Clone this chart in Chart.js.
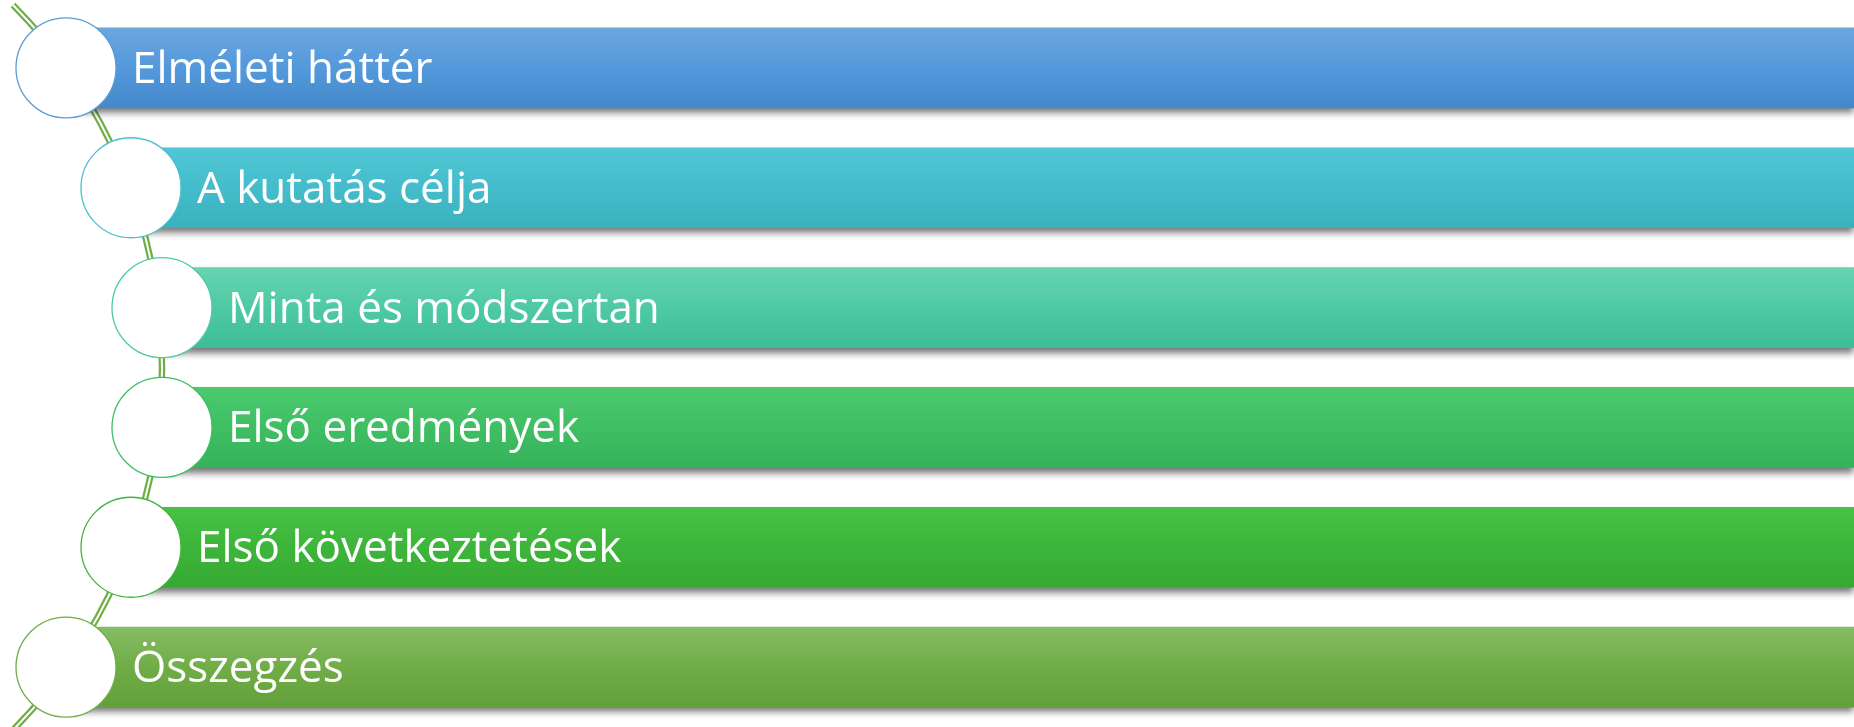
<!DOCTYPE html>
<html>
<head>
<meta charset="utf-8">
<script src="https://cdn.jsdelivr.net/npm/chart.js@4.4.1/dist/chart.umd.min.js"></script>
<style>
  html, body { margin: 0; padding: 0; background: #fff; overflow: hidden; }
  #box { width: 1854px; height: 727px; }
</style>
</head>
<body>
<div id="box"><canvas id="myChart" width="1854" height="727"></canvas></div>
<script>
var steps = ["Elméleti háttér", "A kutatás célja", "Minta és módszertan", "Első eredmények", "Első következtetések", "Összegzés"];
var starts = [66, 131, 162, 162, 131, 66];
var ends = [1854, 1854, 1854, 1854, 1854, 1854];
var topColors = ["#6ca6de", "#50c7d4", "#68d3b1", "#4bc96d", "#48c145", "#86bc64"];
var midColors = ["#5399db", "#44bccb", "#4ecaa3", "#3fbe64", "#3db53a", "#70ad47"];
var bottomColors = ["#4488ca", "#3bb1bd", "#3ebd97", "#35b35a", "#36a932", "#63a039"];

var barData = [];
var dotData = [];
for (var i = 0; i < steps.length; i++) {
    barData.push([starts[i], ends[i]]);
    dotData.push({ x: starts[i], y: steps[i] });
}

function barFill(context) {
    var chart = context.chart;
    var i = context.dataIndex;
    if (!chart.chartArea || context.type !== 'data') return midColors[i];
    var yc = chart.scales.y.getPixelForValue(i);
    var g = chart.ctx.createLinearGradient(0, yc - 40, 0, yc + 40);
    g.addColorStop(0, topColors[i]);
    g.addColorStop(0.5, midColors[i]);
    g.addColorStop(1, bottomColors[i]);
    return g;
}

// green double line running behind the circles
const arcLine = {
    id: 'arcLine',
    beforeDatasetsDraw(chart) {
        var pts = chart.getDatasetMeta(1).data;
        if (!pts.length) return;
        var n = pts.length;
        var a = { x: pts[0].x, y: pts[0].y };
        var b = { x: (pts[2].x + pts[3].x) / 2, y: (pts[2].y + pts[3].y) / 2 };
        var c = { x: pts[n - 1].x, y: pts[n - 1].y };
        var d = 2 * (a.x * (b.y - c.y) + b.x * (c.y - a.y) + c.x * (a.y - b.y));
        var ux = ((a.x * a.x + a.y * a.y) * (b.y - c.y) + (b.x * b.x + b.y * b.y) * (c.y - a.y) + (c.x * c.x + c.y * c.y) * (a.y - b.y)) / d;
        var uy = ((a.x * a.x + a.y * a.y) * (c.x - b.x) + (b.x * b.x + b.y * b.y) * (a.x - c.x) + (c.x * c.x + c.y * c.y) * (b.x - a.x)) / d;
        var r = Math.hypot(a.x - ux, a.y - uy);
        var a0 = Math.asin((5 - uy) / r);
        var a1 = Math.asin(Math.min(1, (760 - uy) / r));
        var ctx = chart.ctx;
        ctx.save();
        ctx.beginPath();
        ctx.arc(ux, uy, r, a0, a1);
        ctx.lineWidth = 6.5;
        ctx.strokeStyle = '#70ad47';
        ctx.stroke();
        ctx.lineWidth = 2;
        ctx.strokeStyle = '#ffffff';
        ctx.stroke();
        ctx.restore();
    }
};

// drop shadow under the bars
const barShadow = {
    id: 'barShadow',
    beforeDatasetDraw(chart, args) {
        if (args.index !== 0) return;
        var ctx = chart.ctx;
        ctx.save();
        ctx.shadowColor = 'rgba(0,0,0,0.55)';
        ctx.shadowBlur = 7;
        ctx.shadowOffsetX = 0;
        ctx.shadowOffsetY = 5;
    },
    afterDatasetDraw(chart, args) {
        if (args.index !== 0) return;
        chart.ctx.restore();
    }
};

// step names written on the bars
const stepText = {
    id: 'stepText',
    afterDatasetsDraw(chart) {
        var ctx = chart.ctx;
        ctx.save();
        ctx.fillStyle = '#ffffff';
        ctx.font = '44px "Open Sans"';
        ctx.textBaseline = 'alphabetic';
        ctx.textAlign = 'left';
        for (var i = 0; i < steps.length; i++) {
            var x = chart.scales.x.getPixelForValue(starts[i]) + 66;
            var y = chart.scales.y.getPixelForValue(i) + 15;
            ctx.fillText(steps[i], x, y);
        }
        ctx.restore();
    }
};

const data = {
    labels: steps,
    datasets: [{
        type: 'bar',
        data: barData,
        backgroundColor: barFill,
        borderWidth: 0,
        barThickness: 80,
        order: 1
    },
    {
        type: 'line',
        data: dotData,
        showLine: false,
        clip: false,
        pointStyle: 'circle',
        pointRadius: 50,
        pointHoverRadius: 50,
        pointBackgroundColor: '#ffffff',
        pointBorderColor: ['#5b9bd5', '#4bc0cf', '#4ecaa3', '#3fbe64', '#3db53a', '#70ad47'],
        pointBorderWidth: 1.3,
        order: 0
    }]
};

const config = {
    type: 'bar',
    data,
    options: {
        indexAxis: 'y',
        responsive: false,
        animation: false,
        layout: { autoPadding: false, padding: { top: 8, bottom: 0, left: 0, right: 0 } },
        plugins: {
            legend: { display: false },
            tooltip: { enabled: false }
        },
        scales: {
            x: { type: 'linear', min: 0, max: 1854, display: false },
            y: { type: 'category', display: false, offset: true }
        }
    },
    plugins: [arcLine, barShadow, stepText]
};

const myChart = new Chart(document.getElementById('myChart'), config);
</script>
</body>
</html>
